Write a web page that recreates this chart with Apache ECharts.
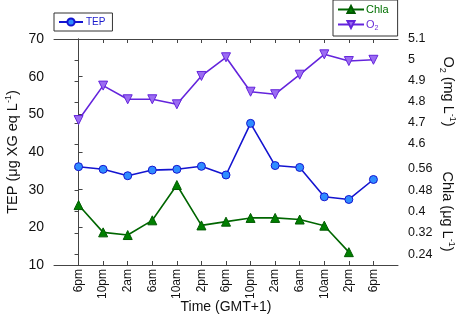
<!DOCTYPE html>
<html><head><meta charset="utf-8">
<script src="https://cdn.jsdelivr.net/npm/echarts@6/dist/echarts.min.js"></script>
<style>html,body{margin:0;padding:0;background:#fff}#c{width:459px;height:317px}</style>
</head><body><div id="c"></div>
<script>
var timeLabels = ['6pm','10pm','2am','6am','10am','2pm','6pm','10pm','2am','6am','10am','2pm','6pm'];
var tepValues = [36.1, 35.4, 33.7, 35.2, 35.4, 36.2, 33.9, 47.6, 36.4, 35.9, 28.1, 27.4, 32.7];
var chlaValues = [0.424, 0.322, 0.312, 0.367, 0.499, 0.348, 0.362, 0.376, 0.376, 0.370, 0.347, 0.248];
var o2Values = [4.714, 4.878, 4.813, 4.813, 4.789, 4.924, 5.013, 4.849, 4.837, 4.930, 5.027, 4.995, 5.001];
var tepTicks = [10, 20, 30, 40, 50, 60, 70];
var o2Ticks = [4.6, 4.7, 4.8, 4.9, 5.0, 5.1];
var chlaTicks = [0.24, 0.32, 0.4, 0.48, 0.56];

var FONT = "'Liberation Sans', Arial, sans-serif";
var NARROW = "'Liberation Sans Narrow', 'Arial Narrow', 'Liberation Sans', sans-serif";
var AX = '#444';
var TXT = '#111';
var idx = timeLabels.map(function(_, i){ return i; });
function pts(arr){ return arr.map(function(v, i){ return [i, v]; }); }

var chart = echarts.init(document.getElementById('c'), null, {renderer:'canvas'});
var hiddenX = function(g){ return {type:'value', gridIndex:g, min:-1, max:13, show:false,
  axisLine:{show:false}, axisTick:{show:false}, axisLabel:{show:false}, splitLine:{show:false}}; };
chart.setOption({
  animation:false,
  textStyle:{fontFamily:FONT},
  grid:[
    {left:54, right:61, top:39, bottom:52, outerBoundsMode:'none', containLabel:false},
    {left:54, right:61, top:39, bottom:173, outerBoundsMode:'none', containLabel:false},
    {left:54, right:61, top:158, bottom:52, outerBoundsMode:'none', containLabel:false}
  ],
  legend:[
    {data:[{name:'TEP', textStyle:{color:'#1a1acc'}}], left:54, top:13, orient:'horizontal',
     borderColor:'#333', borderWidth:1, padding:[4,7,4,4], itemWidth:24, itemHeight:9, itemGap:3,
     textStyle:{fontFamily:FONT, fontSize:10, padding:[0,0,0,-2]}},
    {data:[{name:'Chla', textStyle:{color:'#007000'}},{name:'O2', textStyle:{color:'#6a2fd8'}}],
     left:333, top:0, orient:'vertical', itemGap:4,
     borderColor:'#333', borderWidth:1, padding:[4,9,4,4], itemWidth:26, itemHeight:9,
     textStyle:{fontFamily:FONT, fontSize:11, padding:[0,0,0,-3], rich:{b:{fontSize:11, fontFamily:FONT}, s:{fontSize:7, fontFamily:FONT, padding:[8,0,0,0]}}},
     formatter:function(n){ return n === 'O2' ? '{b|O}{s|2}' : n; }}
  ],
  xAxis:[
    {type:'value', gridIndex:0, min:-1, max:13, position:'bottom',
     axisLine:{lineStyle:{color:AX, width:1}},
     axisTick:{inside:true, length:4, customValues:idx, lineStyle:{color:AX}},
     axisLabel:{customValues:idx, rotate:90, margin:4, fontSize:12, color:TXT, fontFamily:NARROW,
       formatter:function(v){ return timeLabels[Math.round(v)] || ''; }},
     minorTick:{show:false},
     splitLine:{show:false},
     name:'Time (GMT+1)', nameLocation:'middle', nameGap:35, nameMoveOverlap:false,
     nameTextStyle:{fontSize:14, color:TXT, fontFamily:FONT}},
    {type:'value', gridIndex:0, min:-1, max:13, position:'top',
     axisLine:{lineStyle:{color:AX, width:1}},
     axisTick:{inside:true, length:4, customValues:idx, lineStyle:{color:AX}},
     axisLabel:{show:false}, splitLine:{show:false}},
    hiddenX(1), hiddenX(2)
  ],
  yAxis:[
    {type:'value', gridIndex:0, min:10, max:70, interval:10, position:'left',
     axisLine:{show:true, lineStyle:{color:AX}},
     axisTick:{inside:true, length:4, lineStyle:{color:AX}},
     minorTick:{show:false},
     axisLabel:{fontSize:14, color:TXT, margin:10, fontFamily:FONT},
     splitLine:{show:false},
     name:'{a|TEP (μg XG eq L}{s|-1}{a|)}', nameLocation:'middle', nameGap:32, nameRotate:90, nameMoveOverlap:false,
     nameTextStyle:{rich:{a:{fontSize:14.5, color:TXT, fontFamily:FONT}, s:{fontSize:9, color:TXT, fontFamily:FONT, padding:[0,0,9,0]}}}},
    {type:'value', gridIndex:1, min:4.6, max:5.1, position:'right',
     axisLine:{show:true, lineStyle:{color:AX}},
     axisTick:{inside:true, length:4, customValues:o2Ticks, lineStyle:{color:AX}},
     axisLabel:{customValues:o2Ticks, fontSize:12.5, color:TXT, margin:10, fontFamily:FONT,
       formatter:function(v){ return String(+v.toFixed(2)); }},
     splitLine:{show:false},
     name:'{a|O}{s|2}{a| (mg L}{t|-1}{a|)}', nameLocation:'middle', nameGap:40, nameRotate:-90, nameMoveOverlap:false,
     nameTextStyle:{rich:{a:{fontSize:14.5, color:TXT, fontFamily:FONT}, s:{fontSize:9, color:TXT, fontFamily:FONT, padding:[11,0,0,0]}, t:{fontSize:9, color:TXT, fontFamily:FONT, padding:[0,0,9,0]}}}},
    {type:'value', gridIndex:2, min:0.2, max:0.6, position:'right',
     axisLine:{show:true, lineStyle:{color:AX}},
     axisTick:{inside:true, length:4, customValues:chlaTicks, lineStyle:{color:AX}},
     axisLabel:{customValues:chlaTicks, fontSize:12.5, color:TXT, margin:10, fontFamily:FONT,
       formatter:function(v){ return String(+v.toFixed(2)); }},
     splitLine:{show:false},
     name:'{a|Chla (μg L}{t|-1}{a|)}', nameLocation:'middle', nameGap:40, nameRotate:-90, nameMoveOverlap:false,
     nameTextStyle:{rich:{a:{fontSize:14.5, color:TXT, fontFamily:FONT}, t:{fontSize:9, color:TXT, fontFamily:FONT, padding:[0,0,9,0]}}}}
  ],
  series:[
    {name:'TEP', type:'line', xAxisIndex:0, yAxisIndex:0, data:pts(tepValues),
     symbol:'circle', symbolSize:8,
     lineStyle:{color:'#1414d0', width:1.6},
     itemStyle:{color:'#2f8cff', borderColor:'#1414d0', borderWidth:1}},
    {name:'Chla', type:'line', xAxisIndex:3, yAxisIndex:2, data:pts(chlaValues),
     symbol:'triangle', symbolSize:9,
     lineStyle:{color:'#006600', width:1.6},
     itemStyle:{color:'#008000', borderColor:'#005a00', borderWidth:1}},
    {name:'O2', type:'line', xAxisIndex:2, yAxisIndex:1, data:pts(o2Values),
     symbol:'triangle', symbolRotate:180, symbolSize:9,
     lineStyle:{color:'#6424dc', width:1.6},
     itemStyle:{color:'#9b6cf2', borderColor:'#6424dc', borderWidth:1}}
  ]
});
</script></body></html>
